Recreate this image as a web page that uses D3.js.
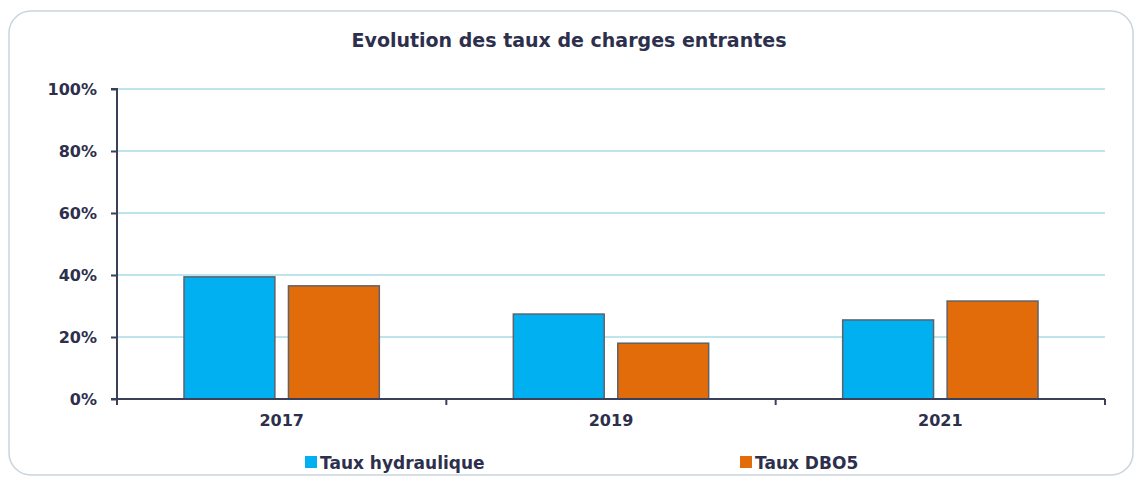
<!DOCTYPE html>
<html><head><meta charset="utf-8">
<script src="https://cdn.jsdelivr.net/npm/d3@7"></script>
<style>body{margin:0;background:#fff}svg{display:block}text{font-family:"DejaVu Sans",sans-serif;font-weight:bold;fill:#2d2f4c}</style>
</head><body>
<svg id="c" width="1137" height="480"></svg>
<script>
const categories = ["2017","2019","2021"];
const seriesNames = ["Taux hydraulique","Taux DBO5"];
const hydraulique = [0.394, 0.274, 0.255];
const dbo5 = [0.365, 0.180, 0.316];
const yTicks = [0,0.2,0.4,0.6,0.8,1.0];
const colors = ["#00b0f0","#e36c0a"];

const svg = d3.select("#c");
svg.append("rect").attr("x",9).attr("y",11).attr("width",1124).attr("height",464).attr("rx",22)
  .attr("fill","#fff").attr("stroke","#c9d5dd").attr("stroke-width",1.5);

const m = {l:117, r:1105, t:89, b:399};
const x = d3.scaleBand().domain(categories).range([m.l,m.r]);
const x1 = d3.scaleBand().domain(seriesNames).range([67, x.bandwidth()-67]).paddingInner(0.13);
const y = d3.scaleLinear().domain([0,1]).range([m.b,m.t]);

svg.append("text").attr("x",569).attr("y",47).attr("text-anchor","middle").attr("font-size",19).text("Evolution des taux de charges entrantes");

svg.append("g").selectAll("line").data(yTicks.filter(d=>d>0)).join("line")
  .attr("x1",m.l).attr("x2",m.r).attr("y1",d=>y(d)).attr("y2",d=>y(d))
  .attr("stroke","#a9dbe6").attr("stroke-width",1.5);

const data = categories.map((c,i)=>({c, vals:[hydraulique[i], dbo5[i]]}));
const g = svg.append("g");
data.forEach(d=>{
  d.vals.forEach((v,j)=>{
    g.append("rect").attr("x",x(d.c)+x1(seriesNames[j])).attr("y",y(v))
      .attr("width",x1.bandwidth()).attr("height",y(0)-y(v))
      .attr("fill",colors[j]).attr("stroke","#5f6268").attr("stroke-width",1.5);
  });
});

const ya = svg.append("g").attr("transform",`translate(${m.l},0)`)
  .call(d3.axisLeft(y).tickValues(yTicks).tickFormat(d3.format(".0%")).tickSize(6).tickPadding(14));
ya.selectAll("text").attr("font-size",16).style("fill","#2d2f4c");
ya.selectAll("line,path").attr("stroke","#3a3f5a").attr("stroke-width",2);
ya.select("path").attr("d",`M-6,${m.t}H0V${m.b}H-6`);

const xa = svg.append("g").attr("transform",`translate(0,${m.b})`)
  .call(d3.axisBottom(x).tickSize(0).tickPadding(16));
xa.select("path").remove();
xa.selectAll("text").attr("font-size",16).style("fill","#2d2f4c");
svg.append("line").attr("x1",m.l).attr("x2",m.r).attr("y1",m.b).attr("y2",m.b).attr("stroke","#3a3f5a").attr("stroke-width",2);
const edges = [m.l, ...categories.slice(1).map(c=>x(c)), m.r];
svg.append("g").selectAll("line").data(edges).join("line")
  .attr("x1",d=>d).attr("x2",d=>d).attr("y1",m.b).attr("y2",m.b+6)
  .attr("stroke","#3a3f5a").attr("stroke-width",2);

const legX = [305, 740];
seriesNames.forEach((n,i)=>{
  svg.append("rect").attr("x",legX[i]).attr("y",456).attr("width",12).attr("height",12).attr("fill",colors[i]);
  svg.append("text").attr("x",legX[i]+15).attr("y",469).attr("font-size",17).text(n);
});
</script>
</body></html>
